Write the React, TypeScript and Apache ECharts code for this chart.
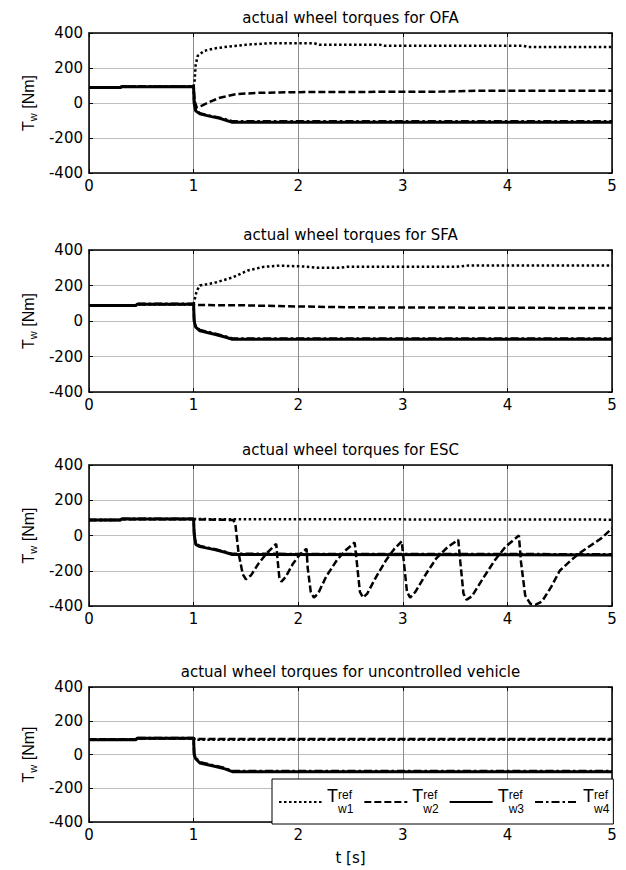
import React, { useEffect, useRef } from 'react';
import * as echarts from 'echarts';

// ---------- data ----------
const panelTitles = [
  'actual wheel torques for OFA',
  'actual wheel torques for SFA',
  'actual wheel torques for ESC',
  'actual wheel torques for uncontrolled vehicle',
];
const seriesNames = ['Tw1', 'Tw2', 'Tw3', 'Tw4'];
const xTickValues = [0, 1, 2, 3, 4, 5];
const yTickValues = [-400, -200, 0, 200, 400];

// OFA
const ofaW1T = [0, 0.3, 0.31, 1.0, 1.01, 1.02, 1.04, 1.1, 1.2, 1.3, 1.5, 1.75, 2.15, 2.2, 2.78, 2.82, 4.15, 4.2, 5.0];
const ofaW1V = [88, 88, 93, 93, 130, 220, 270, 298, 312, 320, 333, 342, 342, 333, 333, 327, 327, 320, 320];
const ofaW2T = [0, 0.3, 0.31, 1.0, 1.01, 1.03, 1.08, 1.15, 1.25, 1.4, 1.6, 2.0, 3.35, 3.7, 5.0];
const ofaW2V = [88, 88, 93, 93, 10, -25, -15, 5, 30, 50, 58, 62, 65, 70, 70];
const ofaW3T = [0, 0.3, 0.31, 1.0, 1.005, 1.02, 1.06, 1.15, 1.25, 1.37, 1.5, 5.0];
const ofaW3V = [88, 88, 93, 93, 0, -45, -62, -75, -88, -110, -110, -110];
const ofaW4T = [0, 0.3, 0.31, 1.0, 1.005, 1.02, 1.06, 1.15, 1.25, 1.37, 1.5, 5.0];
const ofaW4V = [88, 88, 95, 95, 10, -38, -58, -72, -84, -104, -104, -104];

// SFA
const sfaW1T = [0, 0.45, 0.46, 1.0, 1.01, 1.03, 1.06, 1.2, 1.37, 1.52, 1.67, 1.82, 2.05, 2.17, 2.4, 2.47, 3.5, 3.62, 5.0];
const sfaW1V = [88, 88, 95, 95, 120, 170, 200, 215, 245, 285, 305, 312, 307, 300, 300, 305, 305, 312, 312];
const sfaW2T = [0, 0.45, 0.46, 1.0, 1.01, 1.5, 2.0, 2.5, 5.0];
const sfaW2V = [88, 88, 95, 95, 90, 88, 82, 77, 73];
const sfaW3T = [0, 0.45, 0.46, 1.0, 1.005, 1.02, 1.06, 1.2, 1.3, 1.37, 5.0];
const sfaW3V = [88, 88, 95, 95, 0, -35, -55, -75, -90, -103, -103];
const sfaW4T = [0, 0.45, 0.46, 1.0, 1.005, 1.02, 1.06, 1.2, 1.3, 1.37, 5.0];
const sfaW4V = [88, 88, 97, 97, 10, -30, -50, -70, -85, -98, -98];

// ESC
const escW1T = [0, 0.3, 0.31, 1.0, 5.0];
const escW1V = [88, 88, 93, 93, 90];
const escW2T = [0, 0.3, 0.31, 1.0, 1.38, 1.4, 1.43, 1.47, 1.5, 1.55, 1.62, 1.7, 1.79, 1.8, 1.82, 1.84, 1.88, 1.95, 2.02, 2.08,
  2.09, 2.12, 2.15, 2.19, 2.27, 2.37, 2.45, 2.54, 2.56, 2.59, 2.62, 2.66, 2.74, 2.84, 2.92, 2.99, 3.01, 3.04, 3.07, 3.12,
  3.22, 3.32, 3.43, 3.53, 3.55, 3.58, 3.61, 3.66, 3.77, 3.88, 3.98, 4.11, 4.13, 4.17, 4.22, 4.27, 4.33, 4.42, 4.5, 4.6,
  4.69, 4.8, 4.9, 5.0];
const escW2V = [88, 88, 92, 92, 88, 60, -100, -220, -248, -225, -160, -100, -47, -120, -240, -262, -235, -160, -105, -75,
  -180, -320, -352, -330, -230, -140, -85, -40, -150, -320, -352, -330, -240, -140, -75, -33, -150, -320, -352, -320,
  -220, -130, -65, -25, -150, -330, -365, -345, -240, -140, -65, 0, -150, -340, -388, -392, -375, -290, -200, -145,
  -100, -55, -15, 40];
const escW3T = [0, 0.3, 0.31, 1.0, 1.005, 1.02, 1.06, 1.2, 1.3, 1.37, 5.0];
const escW3V = [88, 88, 93, 93, 10, -50, -63, -80, -95, -108, -110];
const escW4T = [0, 0.3, 0.31, 1.0, 1.005, 1.02, 1.06, 1.2, 1.3, 1.37, 5.0];
const escW4V = [88, 88, 95, 95, 20, -45, -60, -77, -92, -104, -106];

// uncontrolled
const uncW1T = [0, 0.45, 0.46, 1.0, 1.01, 5.0];
const uncW1V = [88, 88, 97, 97, 88, 88];
const uncW2T = [0, 0.45, 0.46, 1.0, 1.01, 5.0];
const uncW2V = [90, 90, 95, 95, 92, 92];
const uncW3T = [0, 0.45, 0.46, 1.0, 1.005, 1.02, 1.06, 1.2, 1.3, 1.37, 5.0];
const uncW3V = [88, 88, 97, 97, 0, -25, -50, -70, -85, -102, -102];
const uncW4T = [0, 0.45, 0.46, 1.0, 1.005, 1.02, 1.06, 1.2, 1.3, 1.37, 5.0];
const uncW4V = [88, 88, 98, 98, 10, -20, -45, -66, -80, -98, -98];

const panelData: [number[], number[]][][] = [
  [[ofaW1T, ofaW1V], [ofaW2T, ofaW2V], [ofaW3T, ofaW3V], [ofaW4T, ofaW4V]],
  [[sfaW1T, sfaW1V], [sfaW2T, sfaW2V], [sfaW3T, sfaW3V], [sfaW4T, sfaW4V]],
  [[escW1T, escW1V], [escW2T, escW2V], [escW3T, escW3V], [escW4T, escW4V]],
  [[uncW1T, uncW1V], [uncW2T, uncW2V], [uncW3T, uncW3V], [uncW4T, uncW4V]],
];

// ---------- styling ----------
const FONT = '"DejaVu Sans", "Liberation Sans", Arial, sans-serif';
const NFONT = '"Liberation Sans", Arial, Helvetica, sans-serif';
const W = 626;
const H = 870;
const GRID_LEFT = 89;
const GRID_RIGHT = 14;
const GRID_TOPS = [33, 250, 465, 687];
const GRID_HS = [140, 142, 141, 135];
const FS = 15;
const lineStyles: any[] = [
  { type: [2.5, 2.5], width: 2.5 },
  { type: [7, 3], width: 2.5 },
  { type: 'solid', width: 3 },
  { type: [8, 3, 2.5, 3], width: 2.5 },
];

function buildOption() {
  const grid = GRID_TOPS.map((top, i) => ({ left: GRID_LEFT, right: GRID_RIGHT, top, height: GRID_HS[i], containLabel: false }));
  const axisLine = { show: true, onZero: false, lineStyle: { color: '#000', width: 1.5 } };
  const tick = { show: true, inside: true, length: 4, lineStyle: { color: '#000', width: 1 } };
  const xMin = xTickValues[0];
  const xMax = xTickValues[xTickValues.length - 1];
  const xInt = xTickValues[1] - xTickValues[0];
  const yMin = yTickValues[0];
  const yMax = yTickValues[yTickValues.length - 1];
  const yInt = yTickValues[1] - yTickValues[0];

  const xAxis: any[] = [];
  const yAxis: any[] = [];
  for (let i = 0; i < 4; i++) {
    xAxis.push({
      type: 'value', gridIndex: i, position: 'bottom', min: xMin, max: xMax, interval: xInt,
      axisLine, axisTick: tick,
      axisLabel: { color: '#000', fontSize: FS, fontFamily: FONT, margin: 5 },
      splitLine: { show: true, lineStyle: { color: '#8c8c8c', width: 1 } },
      ...(i === 3 ? { name: 't [s]', nameLocation: 'middle', nameGap: 28, nameTextStyle: { color: '#000', fontSize: FS, fontFamily: FONT } } : {}),
    });
  }
  for (let i = 0; i < 4; i++) {
    xAxis.push({
      type: 'value', gridIndex: i, position: 'top', min: xMin, max: xMax, interval: xInt,
      axisLine, axisTick: tick, axisLabel: { show: false }, splitLine: { show: false },
    });
  }
  for (let i = 0; i < 4; i++) {
    yAxis.push({
      type: 'value', gridIndex: i, position: 'left', min: yMin, max: yMax, interval: yInt,
      axisLine, axisTick: tick,
      axisLabel: { color: '#000', fontSize: FS, fontFamily: FONT, margin: 6 },
      splitLine: { show: true, lineStyle: { color: '#bdbdbd', width: 1 } },
      name: '{a|T}{b|w}{a| [Nm]}', nameLocation: 'middle', nameGap: 50, nameRotate: 90,
      nameTextStyle: {
        color: '#000', fontSize: 16, fontFamily: NFONT,
        rich: {
          a: { fontSize: 16, fontFamily: NFONT, color: '#000', lineHeight: 20 },
          b: { fontSize: 11, fontFamily: NFONT, color: '#000', lineHeight: 12, verticalAlign: 'bottom' },
        },
      },
    });
  }
  for (let i = 0; i < 4; i++) {
    yAxis.push({
      type: 'value', gridIndex: i, position: 'right', min: yMin, max: yMax, interval: yInt,
      axisLine, axisTick: tick, axisLabel: { show: false }, splitLine: { show: false },
    });
  }

  const series: any[] = [];
  panelData.forEach((panel, pi) => {
    panel.forEach(([t, v], si) => {
      series.push({
        type: 'line', name: seriesNames[si], xAxisIndex: pi, yAxisIndex: pi,
        data: t.map((x, k) => [x, v[k]]),
        symbol: 'none', showSymbol: false, smooth: false,
        itemStyle: { color: '#000' },
        lineStyle: { color: '#000', ...lineStyles[si] },
        z: 3 + (si === 2 ? 1 : 0),
      });
    });
  });

  const title = panelTitles.map((text, i) => ({
    text, left: GRID_LEFT + (W - GRID_LEFT - GRID_RIGHT) / 2, top: GRID_TOPS[i] - 23, textAlign: 'center',
    textStyle: { color: '#000', fontSize: FS, fontWeight: 'normal', fontFamily: FONT },
    padding: 0,
  }));

  const legend = {
    show: true, orient: 'horizontal', left: 272, top: 779,
    data: seriesNames,
    itemWidth: 43, itemHeight: 12, itemGap: 10,
    padding: [8, 4, 9, 6],
    backgroundColor: '#fff', borderColor: '#000', borderWidth: 1, borderRadius: 0,
    itemStyle: { opacity: 0 },
    formatter: (name: string) => `{t|T}{sup|ref}\n{sub|${name.slice(1)}}`,
    textStyle: {
      color: '#000', fontFamily: NFONT, fontSize: 12,
      rich: {
        t: { fontSize: 18, fontFamily: NFONT, color: '#000', lineHeight: 14 },
        sup: { fontSize: 12, fontFamily: NFONT, color: '#000', lineHeight: 11, verticalAlign: 'top' },
        sub: { fontSize: 12, fontFamily: NFONT, color: '#000', lineHeight: 12, padding: [0, 0, 0, 11] },
      },
    },
    z: 10,
  };

  return {
    animation: false,
    backgroundColor: '#fff',
    title, grid, xAxis, yAxis, series, legend,
  };
}

export default function App() {
  const ref = useRef<HTMLDivElement>(null);
  useEffect(() => {
    if (!ref.current) return;
    const chart = echarts.init(ref.current, undefined, { renderer: 'svg' });
    chart.setOption(buildOption() as any);
    return () => chart.dispose();
  }, []);
  return <div ref={ref} style={{ position: 'absolute', left: 0, top: 0, width: W, height: H, background: '#fff' }} />;
}
